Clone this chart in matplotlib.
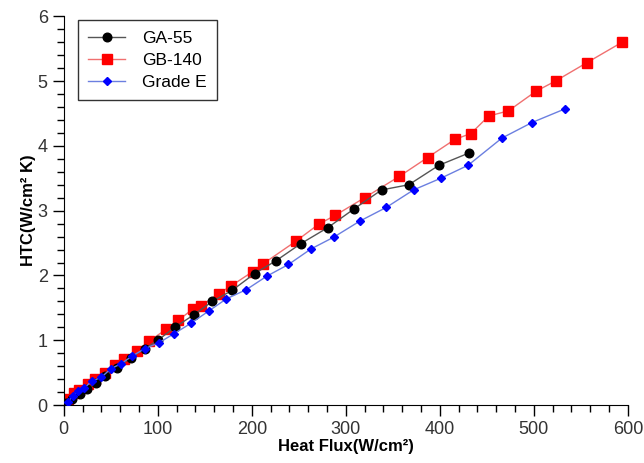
import matplotlib.pyplot as plt
from matplotlib.ticker import MultipleLocator

plt.rcParams['font.family'] = ['Liberation Sans', 'DejaVu Sans']

ga55_x = [2, 9, 17, 25, 34, 44, 57, 71, 86, 100, 118, 138, 158, 179, 203, 226,
          252, 281, 309, 338, 367, 399, 431]
ga55_y = [0.04, 0.10, 0.17, 0.25, 0.34, 0.45, 0.58, 0.73, 0.87, 1.00, 1.20, 1.39,
          1.60, 1.77, 2.03, 2.23, 2.49, 2.74, 3.03, 3.32, 3.40, 3.70, 3.89]

gb140_x = [4, 11, 16, 26, 33, 44, 54, 64, 78, 91, 109, 122, 137, 146, 165, 178,
           201, 212, 247, 271, 289, 320, 357, 387, 416, 433, 452, 473, 502, 523,
           556, 594]
gb140_y = [0.10, 0.18, 0.23, 0.32, 0.40, 0.50, 0.62, 0.71, 0.84, 0.99, 1.17, 1.31,
           1.48, 1.53, 1.72, 1.84, 2.06, 2.18, 2.53, 2.79, 2.93, 3.20, 3.53, 3.82,
           4.10, 4.19, 4.46, 4.54, 4.84, 5.00, 5.28, 5.60]

gradee_x = [4, 10, 15, 22, 30, 40, 50, 61, 73, 86, 101, 117, 135, 154, 173, 194,
            216, 239, 263, 287, 315, 343, 372, 401, 430, 466, 498, 533]
gradee_y = [0.05, 0.14, 0.22, 0.27, 0.37, 0.43, 0.56, 0.64, 0.76, 0.87, 0.96, 1.10,
            1.26, 1.45, 1.64, 1.78, 1.99, 2.17, 2.41, 2.59, 2.84, 3.05, 3.32, 3.50,
            3.70, 4.12, 4.36, 4.57]

fig = plt.figure(figsize=(6.44, 4.63), dpi=100)
ax = fig.add_axes([0.099, 0.125, 0.876, 0.84])

ax.plot(ga55_x, ga55_y, color='#555555', lw=1, marker='o', ms=6.2,
        mfc='black', mec='black', label='GA-55', zorder=3)
ax.plot(gb140_x, gb140_y, color='#f07070', lw=1, marker='s', ms=7.5,
        mfc='#ff0000', mec='#ff0000', label='GB-140', zorder=2)
ax.plot(gradee_x, gradee_y, color='#6b7fe0', lw=1, marker='D', ms=4.3,
        mfc='#0000ff', mec='#0000ff', label='Grade E', zorder=4)

ax.set_xlim(0, 600)
ax.set_ylim(0, 6)
ax.xaxis.set_major_locator(MultipleLocator(100))
ax.xaxis.set_minor_locator(MultipleLocator(20))
ax.yaxis.set_major_locator(MultipleLocator(1))
ax.yaxis.set_minor_locator(MultipleLocator(0.2))
ax.tick_params(which='major', direction='out', length=8, width=1,
               labelsize=13, labelcolor='#333333')
ax.tick_params(which='minor', direction='out', length=5, width=1)
ax.spines['top'].set_visible(False)
ax.spines['right'].set_visible(False)

ax.set_xlabel('Heat Flux(W/cm²)', fontsize=12, fontweight='bold', labelpad=1)
ax.set_ylabel('HTC(W/cm² K)', fontsize=12, fontweight='bold', labelpad=1)

leg = ax.legend(loc='upper left', bbox_to_anchor=(0.01, 1.012), fontsize=12.5,
                fancybox=False, edgecolor='#333333', framealpha=1,
                handlelength=2.1, handletextpad=1.0, borderpad=0.6,
                labelspacing=0.4)
leg.get_frame().set_linewidth(1)

fig.savefig('out.png', dpi=100)
